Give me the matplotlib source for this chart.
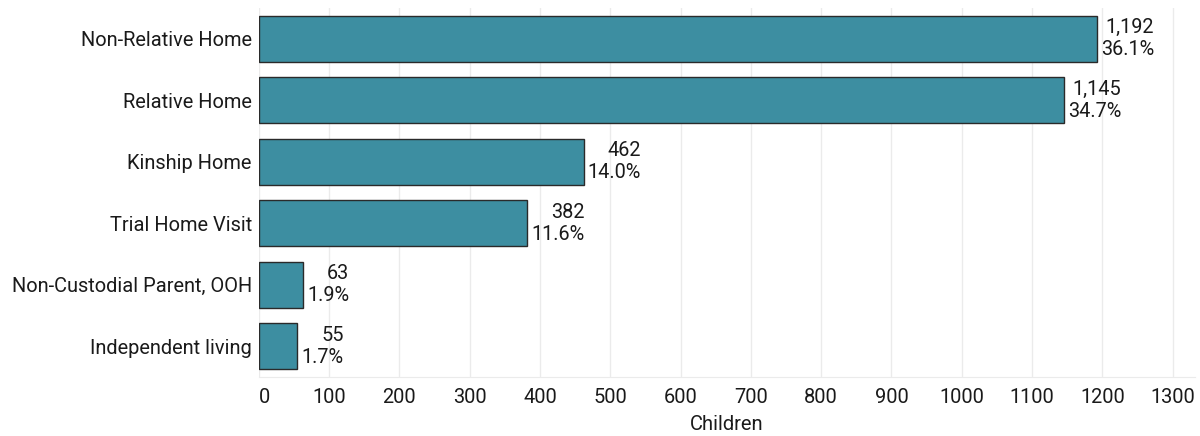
import matplotlib
matplotlib.use("Agg")
import matplotlib.pyplot as plt
from matplotlib.transforms import ScaledTranslation

categories = ["Non-Relative Home", "Relative Home", "Kinship Home",
              "Trial Home Visit", "Non-Custodial Parent, OOH", "Independent living"]
counts = [1192, 1145, 462, 382, 63, 55]
percents = ["36.1%", "34.7%", "14.0%", "11.6%", "1.9%", "1.7%"]
xticks = list(range(0, 1301, 100))

plt.rcParams['font.family'] = ['Roboto', 'DejaVu Sans']

fig = plt.figure(figsize=(12, 4.36), dpi=100)
ax = fig.add_axes([0.2156, 0.1353, 0.7804, 0.8464])

ypos = list(range(len(categories)))
ax.barh(ypos, counts, height=0.75, color="#3d8ea1", edgecolor="#2a2a2a", linewidth=1.0, zorder=3)
ax.set_ylim(len(categories) - 0.5, -0.5)
ax.set_xlim(0, 1332)
ax.set_yticks(ypos)
ax.set_yticklabels(categories, fontsize=14.4, color="#1a1a1a")
ax.set_xticks(xticks)
ax.set_xticklabels([str(t) for t in xticks], fontsize=14.4, color="#1a1a1a")
ax.tick_params(axis='both', length=0, pad=5)
ax.tick_params(axis='x', pad=8)
ax.grid(axis='x', color="#ebebeb", linewidth=1.0, zorder=0)
for s in ["top", "right", "left"]:
    ax.spines[s].set_visible(False)
ax.spines["bottom"].set_color("#ebebeb")
ax.set_axisbelow(True)
ax.set_xlabel("Children", fontsize=14.5, color="#1a1a1a", labelpad=6)

# nudge the "0" tick label slightly right as in the reference
fig.canvas.draw()
lbl0 = ax.get_xticklabels()[0]
lbl0.set_transform(lbl0.get_transform() + ScaledTranslation(6 / 100, 0, fig.dpi_scale_trans))

for y, c, p in zip(ypos, counts, percents):
    ax.annotate(f"{c:,}\n{p}", xy=(c, y), xytext=(3, 0), textcoords="offset points",
                ha="left", va="center", multialignment="right", fontsize=14.3,
                color="#1a1a1a", linespacing=1.22)

fig.savefig("out.png", dpi=100)
